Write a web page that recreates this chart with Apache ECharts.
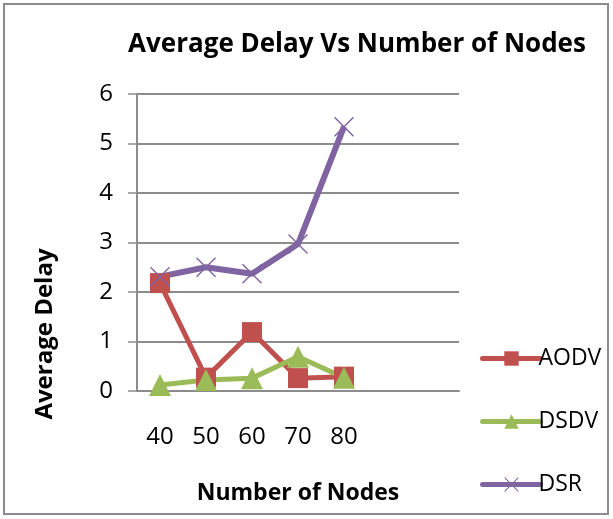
<!DOCTYPE html>
<html>
<head>
<meta charset="utf-8">
<script src="https://cdn.jsdelivr.net/npm/echarts@6/dist/echarts.min.js"></script>
<style>
  html, body { margin: 0; padding: 0; background: #fff; }
  #chart { width: 613px; height: 519px; }
</style>
</head>
<body>
<div id="chart"></div>
<script>
// values
const categories = ['40', '50', '60', '70', '80', '', '']
const aodv = [2.18, 0.27, 1.19, 0.26, 0.29]
const dsdv = [0.12, 0.22, 0.26, 0.69, 0.27]
const dsr = [2.31, 2.5, 2.37, 2.97, 5.34]
const yTicks = { min: 0, max: 6, interval: 1 }

const font = '"Open Sans", "Noto Sans", sans-serif'
const gridColor = '#8c8c8c'
const crossPath = 'path://M0,1L1,0L20,19L19,20Z M19,0L20,1L1,20L0,19Z'

const chart = echarts.init(document.getElementById('chart'))

chart.setOption({
  animation: false,
  backgroundColor: '#fff',
  title: {
    text: 'Average Delay Vs Number of Nodes',
    left: 352,
    top: 27,
    textAlign: 'center',
    textStyle: { fontFamily: font, fontSize: 26, fontWeight: 'bold', color: '#000' }
  },
  grid: { left: 137, right: 154, top: 94, bottom: 128 },
  xAxis: {
    type: 'category',
    data: categories,
    boundaryGap: true,
    name: 'Number of Nodes',
    nameLocation: 'middle',
    nameGap: 91,
    nameTextStyle: { fontFamily: font, fontSize: 23, fontWeight: 'bold', color: '#000' },
    axisLine: { lineStyle: { color: gridColor, width: 2 } },
    axisTick: { show: false },
    axisLabel: { fontFamily: font, fontSize: 24, color: '#000', margin: 34 }
  },
  yAxis: {
    type: 'value',
    min: yTicks.min,
    max: yTicks.max,
    interval: yTicks.interval,
    axisLine: { show: true, lineStyle: { color: gridColor, width: 2 } },
    axisTick: { show: true, length: 9, lineStyle: { color: gridColor, width: 1.5 } },
    splitLine: { lineStyle: { color: gridColor, width: 2 } },
    axisLabel: { fontFamily: font, fontSize: 24, color: '#000', margin: 24 }
  },
  legend: {
    orient: 'vertical',
    left: 475,
    top: 342,
    itemWidth: 58,
    itemHeight: 18,
    itemGap: 40,
    lineStyle: { width: 5, cap: 'round' },
    textStyle: { fontFamily: font, fontSize: 23, color: '#000', padding: [0, 0, 0, -7] },
    data: ['AODV', 'DSDV', 'DSR']
  },
  series: [
    {
      name: 'AODV',
      type: 'line',
      data: aodv,
      symbol: 'rect',
      symbolSize: 20,
      color: '#C0504D',
      lineStyle: { width: 5 }
    },
    {
      name: 'DSDV',
      type: 'line',
      data: dsdv,
      symbol: 'triangle',
      symbolSize: 22,
      color: '#9BBB59',
      lineStyle: { width: 5 }
    },
    {
      name: 'DSR',
      type: 'line',
      data: dsr,
      symbol: crossPath,
      symbolSize: 20,
      color: '#8064A2',
      lineStyle: { width: 6 }
    }
  ],
  graphic: [
    {
      type: 'rect',
      shape: { x: 4, y: 4, width: 604, height: 510 },
      style: { fill: 'none', stroke: '#8c8c8c', lineWidth: 2 },
      silent: true
    },
    {
      type: 'text',
      x: 45,
      y: 334,
      rotation: Math.PI / 2,
      style: {
        text: 'Average Delay',
        fontFamily: font,
        fontSize: 24,
        fontWeight: 'bold',
        fill: '#000',
        align: 'center',
        verticalAlign: 'middle'
      }
    }
  ]
})
</script>
</body>
</html>
